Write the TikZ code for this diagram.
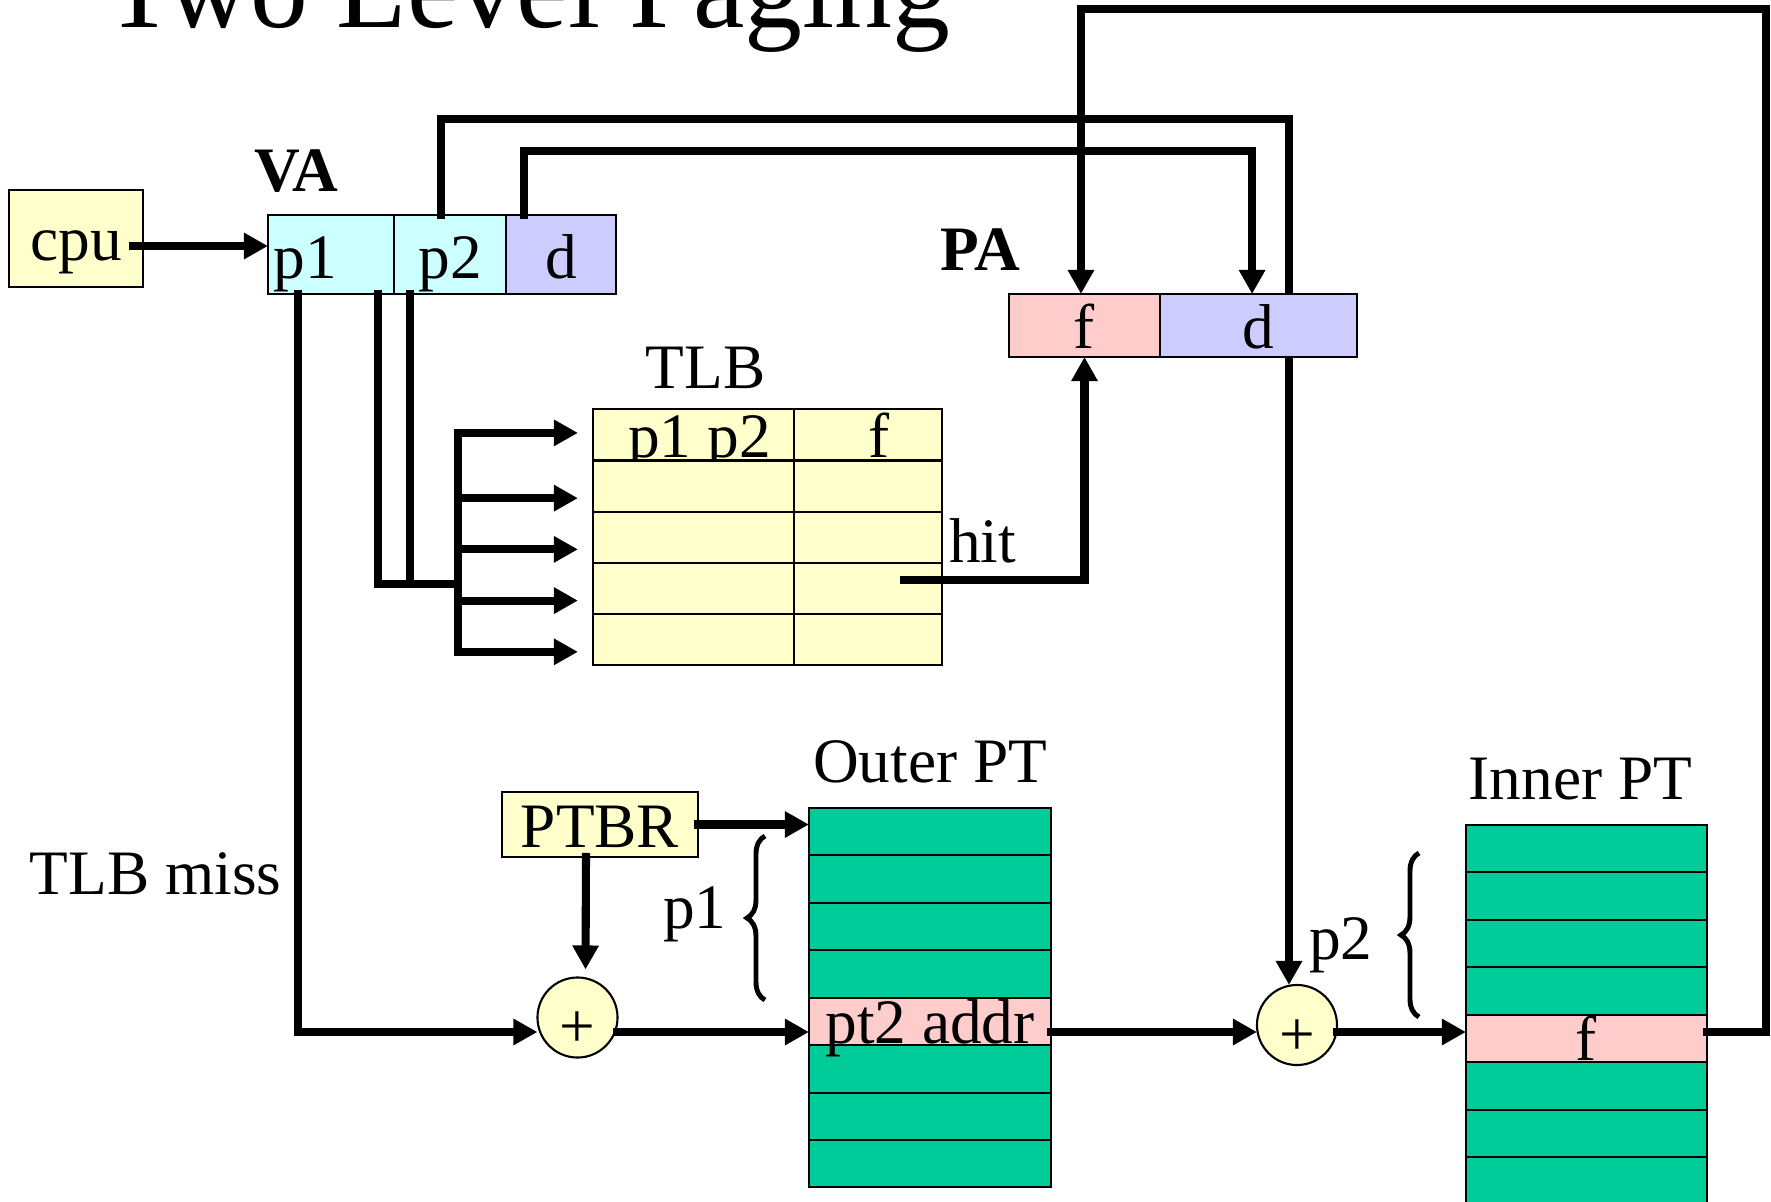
\documentclass[tikz,border=0pt]{standalone}
\usepackage{fontspec}
\setmainfont{Liberation Serif}
\usepackage{tikz}
\usetikzlibrary{arrows.meta, positioning, decorations.pathreplacing}
\definecolor{CellYellow}{HTML}{FFFFCC}
\definecolor{CellCyan}{HTML}{CCFFFF}
\definecolor{CellBlue}{HTML}{CCCCFF}
\definecolor{CellPink}{HTML}{FFCCCC}
\definecolor{TableGreen}{HTML}{00CC99}

\begin{document}
\begin{tikzpicture}[x=0.01cm, y=-0.01cm, >={Triangle[length=0.24cm, width=0.25cm]},
  every node/.style={font=\fontsize{18}{20}\selectfont, inner sep=0pt, outer sep=0pt},
  cell/.style={draw, line width=0.6pt, text depth=0pt},
  vacell/.style={cell, minimum height=0.79cm, text height=0.47cm},
  pacell/.style={cell, minimum height=0.63cm, text height=0.45cm},
  tlbcell/.style={cell, fill=CellYellow, minimum height=0.512cm, text height=0.46cm},
  ptrow/.style={cell, fill=TableGreen, minimum width=2.42cm, minimum height=0.474cm, text height=0.44cm},
  adder/.style={draw, circle, fill=CellYellow, line width=0.6pt, minimum size=0.8cm, text height=0.6cm, text depth=0pt},
  tag/.style={anchor=base},
  wire/.style={line width=2.3pt, line cap=rect},
  arrow/.style={wire, ->},
  brc/.style={decorate, decoration={brace, amplitude=0.18cm}, line width=1.4pt}]
\useasboundingbox (0,0) rectangle (1771,1202);

\node[tag, anchor=base west, font=\fontsize{32.9}{36}\selectfont] (title) at (104,27) {Two Level Paging};

% virtual address
\node[cell, fill=CellYellow, minimum width=1.34cm, minimum height=0.97cm, text height=0.43cm] (cpu) at (76,238.5) {cpu};
\node[vacell, fill=CellCyan, text width=1.14cm, inner xsep=0.06cm, align=left] (va1) at (331,254.5) {p1};
\node[vacell, fill=CellCyan, minimum width=1.12cm, right=0pt of va1] (va2) {p2};
\node[vacell, fill=CellBlue, minimum width=1.10cm, right=0pt of va2] (va3) {d};
\node[tag, anchor=base west, font=\fontsize{18}{20}\selectfont\bfseries] (valbl) at ([xshift=-0.13cm, yshift=0.23cm]va1.north west) {VA};

% TLB
\node[tlbcell, minimum width=2.01cm] (tlbA1) at (693.5,434.9) {\hspace*{0.12cm}p1 p2};
\node[tlbcell, minimum width=1.48cm, right=0pt of tlbA1] (tlbB1) {\hspace*{0.22cm}f};
\node[tlbcell, minimum width=2.01cm, below=0pt of tlbA1] (tlbA2) {};
\node[tlbcell, minimum width=1.48cm, right=0pt of tlbA2] (tlbB2) {};
\node[tlbcell, minimum width=2.01cm, below=0pt of tlbA2] (tlbA3) {};
\node[tlbcell, minimum width=1.48cm, right=0pt of tlbA3] (tlbB3) {};
\node[tlbcell, minimum width=2.01cm, below=0pt of tlbA3] (tlbA4) {};
\node[tlbcell, minimum width=1.48cm, right=0pt of tlbA4] (tlbB4) {};
\node[tlbcell, minimum width=2.01cm, below=0pt of tlbA4] (tlbA5) {};
\node[tlbcell, minimum width=1.48cm, right=0pt of tlbA5] (tlbB5) {};
\node[tag] (tlblbl) at ([xshift=0.12cm, yshift=0.21cm]tlbA1.north) {TLB};
\node[tag, anchor=base west] (hit) at ([xshift=0.07cm]tlbB3.south east) {hit};

% page tables
\node[cell, fill=CellYellow, minimum width=1.96cm, minimum height=0.65cm, text height=0.45cm] (ptbr) at (600,824.5) {PTBR};
\node[ptrow] (outer1) at (930,831.7) {};
\node[ptrow, below=0pt of outer1] (outer2) {};
\node[ptrow, below=0pt of outer2] (outer3) {};
\node[ptrow, below=0pt of outer3] (outer4) {};
\node[ptrow, below=0pt of outer4, fill=CellPink] (outer5) {};
\node[ptrow, below=0pt of outer5] (outer6) {};
\node[ptrow, below=0pt of outer6] (outer7) {};
\node[ptrow, below=0pt of outer7] (outer8) {};
\node[tag] (pt2addr) at ([yshift=0.02cm]outer5.south) {pt2 addr};
\node[tag] (outerlbl) at ([yshift=0.25cm]outer1.north) {Outer PT};

\node[ptrow, minimum width=2.41cm] (inner1) at (1586.5,848.7) {};
\node[ptrow, minimum width=2.41cm, below=0pt of inner1] (inner2) {};
\node[ptrow, minimum width=2.41cm, below=0pt of inner2] (inner3) {};
\node[ptrow, minimum width=2.41cm, below=0pt of inner3] (inner4) {};
\node[ptrow, minimum width=2.41cm, below=0pt of inner4, fill=CellPink] (inner5) {f};
\node[ptrow, minimum width=2.41cm, below=0pt of inner5] (inner6) {};
\node[ptrow, minimum width=2.41cm, below=0pt of inner6] (inner7) {};
\node[ptrow, minimum width=2.41cm, below=0pt of inner7] (inner8) {};
\node[tag] (innerlbl) at ([xshift=-0.06cm, yshift=0.25cm]inner1.north) {Inner PT};

\node[adder] (add1) at (577.5,1017.5) {+};
\node[adder] (add2) at (1297,1025) {+};
\node[tag, anchor=base west] (miss) at (30,894) {TLB miss};
\node[tag, anchor=base west] (p1lbl) at (663,928) {p1};
\node[tag, anchor=base west] (p2lbl) at (1309,959) {p2};
\draw[brc] (765,1000) -- (765,836);
\draw[brc] (1419,1017) -- (1419,853);

\coordinate (join) at (458,584);
\coordinate (missrow) at (0,1032);
\coordinate (topright) at (1766,9);

% p2 goes behind the PA box
\draw[arrow] ([xshift=-0.09cm]va2.north) -- ++(0,-96) -| ([xshift=-0.08cm]add2.north);

% physical address
\node[pacell, fill=CellPink, minimum width=1.51cm] (pa1) at (1084.5,325.5) {f};
\node[pacell, fill=CellBlue, minimum width=1.97cm, right=0pt of pa1] (pa2) {d};
\node[tag, anchor=base west, font=\fontsize{18}{20}\selectfont\bfseries] (palbl) at ([xshift=-0.68cm, yshift=0.23cm]pa1.north west) {PA};

\draw[arrow] ([xshift=-0.1cm, yshift=-0.075cm]cpu.east) -- ([yshift=-0.075cm]cpu.east -| va1.west);
\draw[arrow] ([xshift=-0.37cm]va3.north) -- ++(0,-64) -| ([xshift=-0.065cm]pa2.north);
\draw[wire] ([xshift=0.47cm]va1.south) |- (join);
\draw[wire] ([xshift=-0.4cm]va2.south) |- (join);
\draw[wire] ([yshift=0.02cm]join |- tlbA1.west) -- ([yshift=-0.12cm]join |- tlbA5.west);
\draw[arrow, shorten >=0.15cm] ([yshift=0.02cm]join |- tlbA1.west) -- ([yshift=0.02cm]tlbA1.west);
\draw[arrow, shorten >=0.15cm] ([yshift=-0.12cm]join |- tlbA2.west) -- ([yshift=-0.12cm]tlbA2.west);
\draw[arrow, shorten >=0.15cm] ([yshift=-0.12cm]join |- tlbA3.west) -- ([yshift=-0.12cm]tlbA3.west);
\draw[arrow, shorten >=0.15cm] ([yshift=-0.12cm]join |- tlbA4.west) -- ([yshift=-0.12cm]tlbA4.west);
\draw[arrow, shorten >=0.15cm] ([yshift=-0.12cm]join |- tlbA5.west) -- ([yshift=-0.12cm]tlbA5.west);
\draw[arrow] ([xshift=0.36cm, yshift=0.09cm]tlbB4.center) -| (pa1.south);

\draw[arrow] ([xshift=-0.33cm]va1.south) |- (add1.west |- missrow);
\draw[arrow] (ptbr.east) -- (ptbr.east -| outer1.west);
\draw[arrow, shorten >=0.08cm] ([xshift=-0.14cm]ptbr.south) -- ([xshift=0.08cm]add1.north);
\draw[arrow] (add1.east |- missrow) -- (outer5.west |- missrow);
\draw[arrow] (outer5.east |- missrow) -- (add2.west |- missrow);
\draw[arrow] (add2.east |- missrow) -- (inner5.west |- missrow);
\draw[arrow] (inner5.east |- missrow) -| (topright) -| ([xshift=-0.035cm]pa1.north);
\end{tikzpicture}
\end{document}
